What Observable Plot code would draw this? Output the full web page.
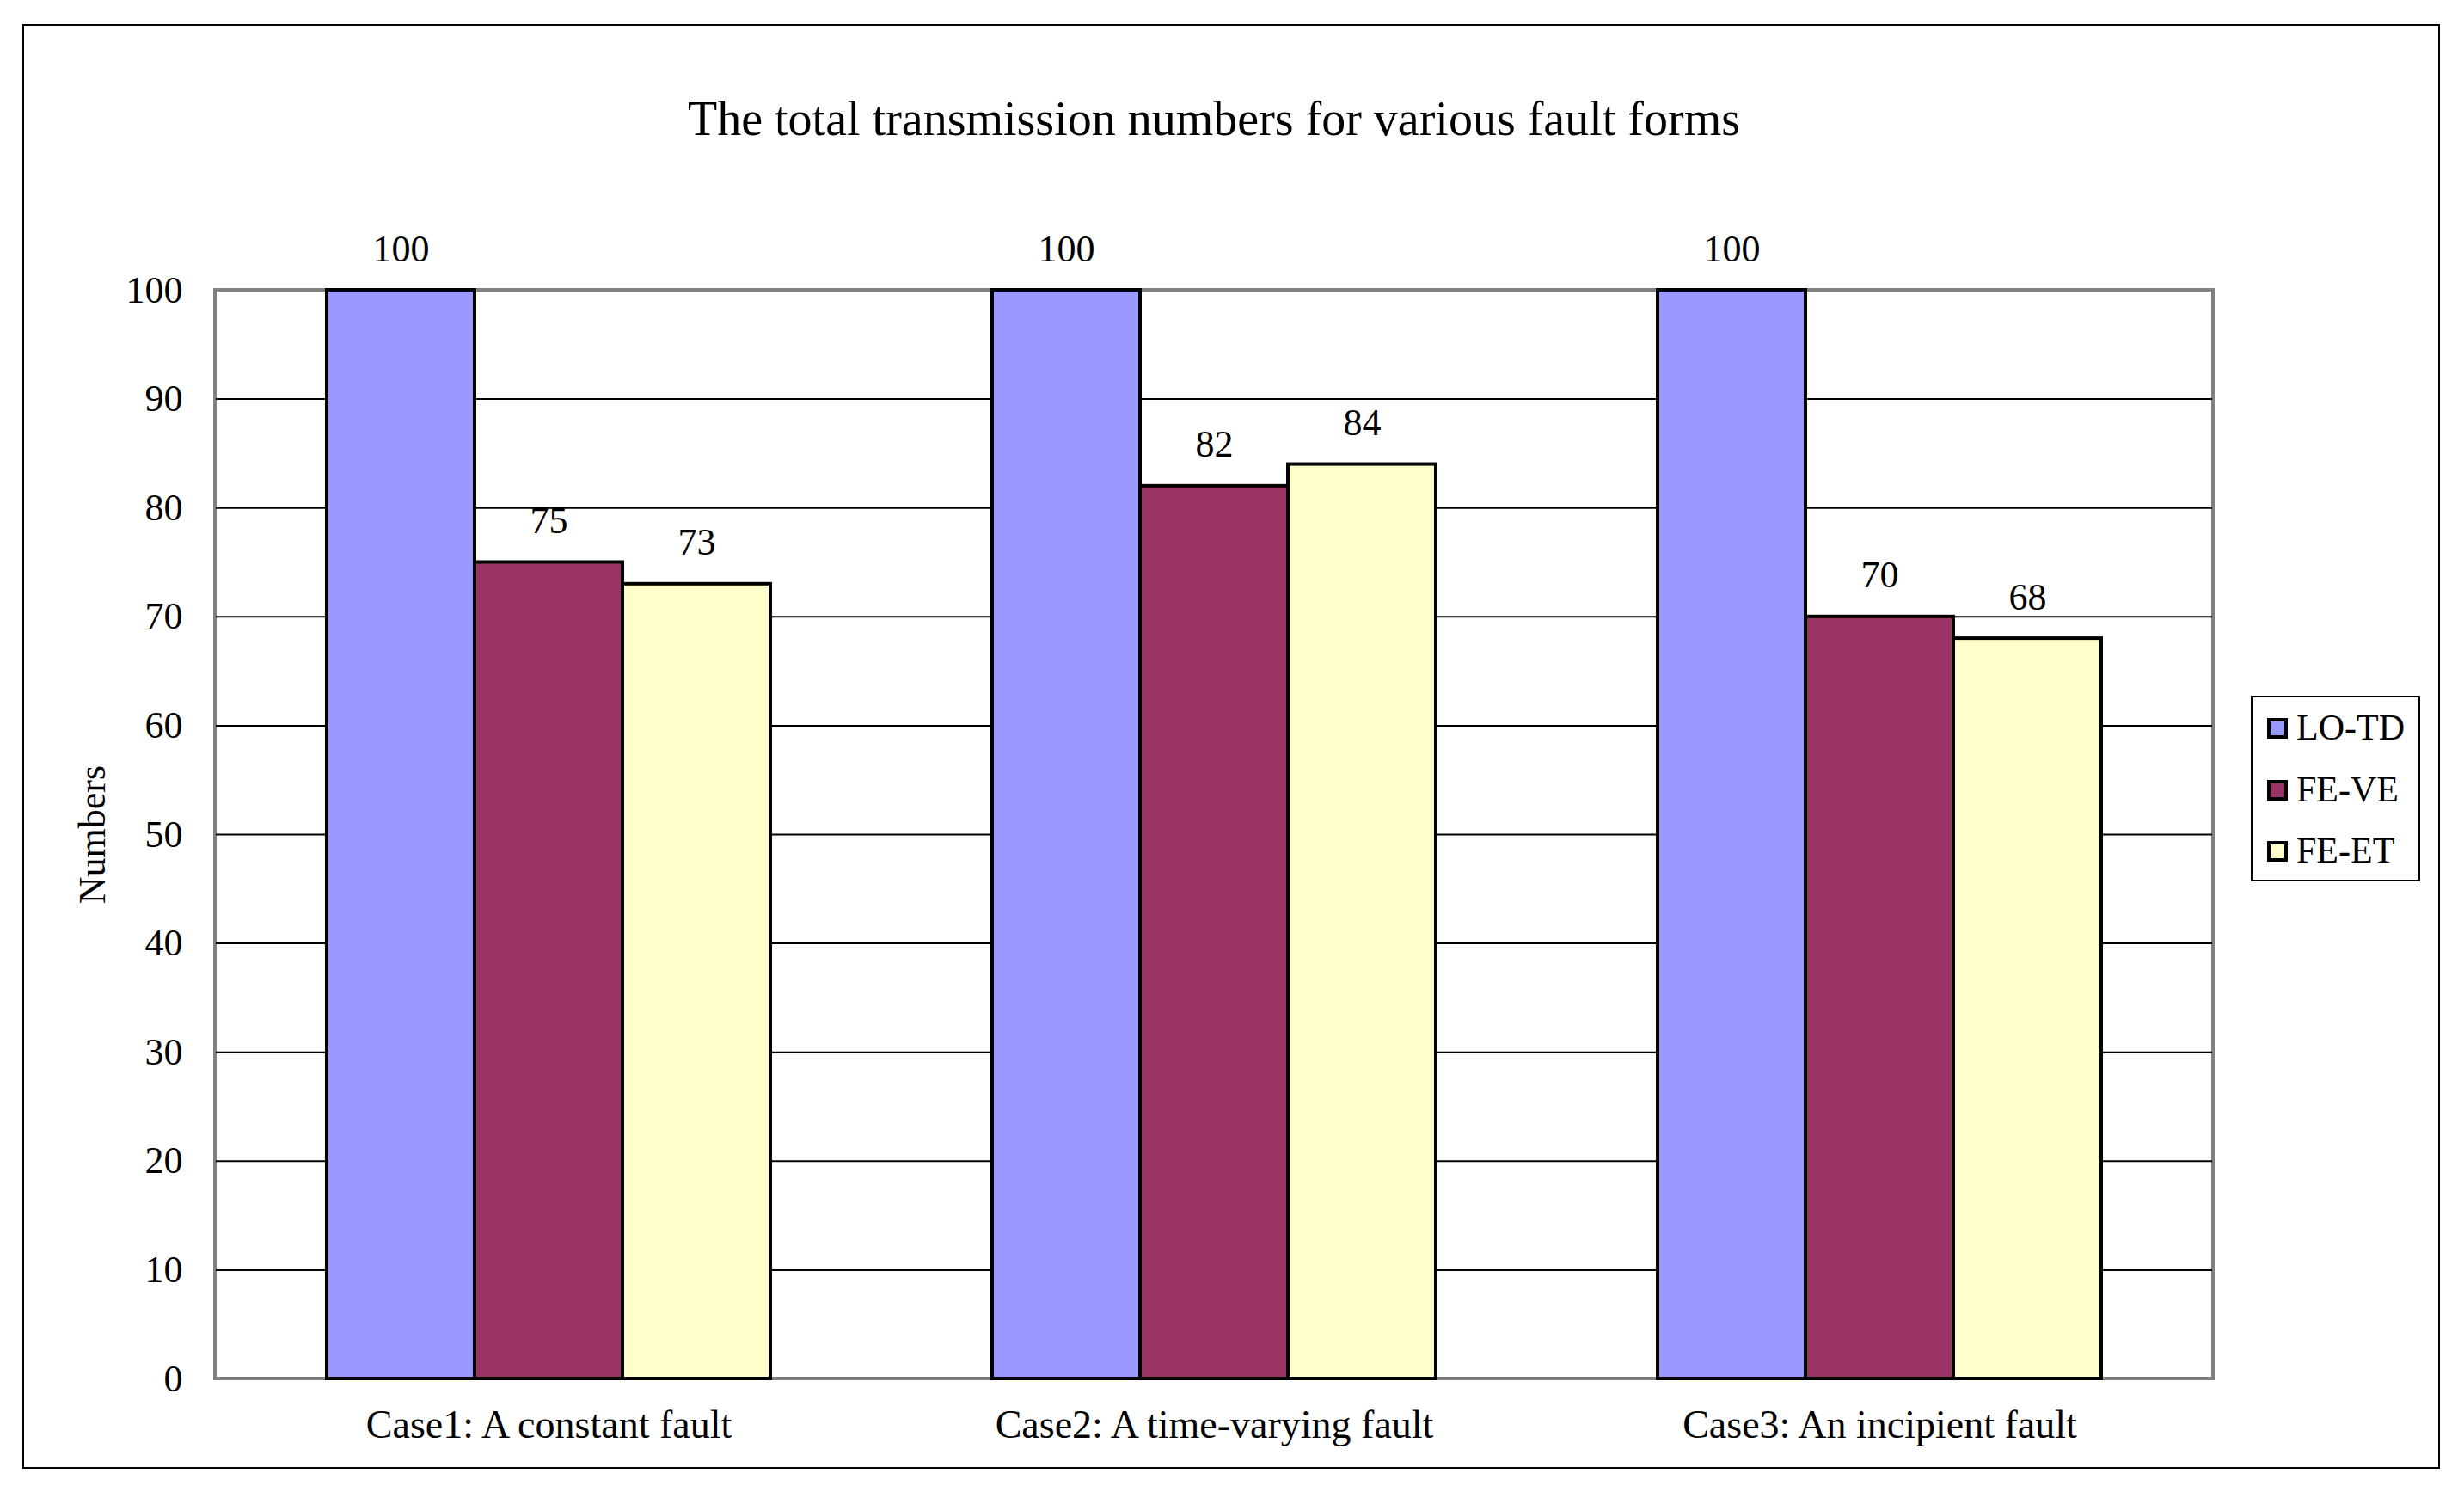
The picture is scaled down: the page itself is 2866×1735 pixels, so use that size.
<!DOCTYPE html>
<html>
<head>
<meta charset="utf-8">
<script src="https://cdn.jsdelivr.net/npm/d3@7"></script>
<script src="https://cdn.jsdelivr.net/npm/@observablehq/plot@0.6"></script>
<style>
  html, body { margin: 0; padding: 0; background: white; }
  #wrap { position: relative; width: 2866px; height: 1735px; font-family: "Liberation Serif", "Times New Roman", serif; }
  #outer { position: absolute; left: 26px; top: 28px; width: 2812px; height: 1680px; border: 2px solid black; box-sizing: border-box; }
  #frame { position: absolute; left: 248px; top: 335px; width: 2328px; height: 1270px; border: 4px solid #808080; box-sizing: border-box; }
  #title { position: absolute; left: 412px; width: 2000px; top: 110px; text-align: center; font-size: 56px; line-height: 56px; }
  #chart { position: absolute; left: 0; top: 0; }
  #legend { position: absolute; left: 2618px; top: 809px; width: 197px; height: 216px; border: 2px solid black; box-sizing: border-box; background: white; }
  .item { position: absolute; left: 0; height: 71.5px; width: 100%; }
  .sw { position: absolute; left: 17px; top: 24px; width: 16px; height: 16px; border: 4px solid black; }
  .lab { position: absolute; left: 51px; top: 0; font-size: 42px; line-height: 71.5px; white-space: nowrap; }
</style>
</head>
<body>
<div id="wrap">
  <div id="outer"></div>
  <div id="frame"></div>
  <div id="title"></div>
  <div id="chart"></div>
  <div id="legend"></div>
</div>
<script>
const titleText = "The total transmission numbers for various fault forms";
const cases = ["Case1: A constant fault", "Case2: A time-varying fault", "Case3: An incipient fault"];
const series = ["LO-TD", "FE-VE", "FE-ET"];
const loTD = [100, 100, 100];
const feVE = [75, 82, 70];
const feET = [73, 84, 68];
const colors = ["#9999FF", "#993366", "#FFFFCC"];
const yTicks = [0, 10, 20, 30, 40, 50, 60, 70, 80, 90, 100];
const gridTicks = [10, 20, 30, 40, 50, 60, 70, 80, 90];
const yLabel = "Numbers";

const valuesBySeries = [loTD, feVE, feET];
const data = [];
cases.forEach((c, i) => {
  series.forEach((s, j) => {
    data.push({case: c, series: s, value: valuesBySeries[j][i]});
  });
});

document.getElementById("title").textContent = titleText;

const chart = Plot.plot({
  width: 2866,
  height: 1735,
  marginLeft: 250,
  marginRight: 292,
  marginTop: 337,
  marginBottom: 132,
  style: {background: "transparent", fontFamily: "Liberation Serif, Times New Roman, serif", fontSize: "44px", color: "black"},
  fx: {domain: cases, padding: 0, axis: null, label: null},
  x: {domain: series, paddingInner: 0, paddingOuter: 0.75, axis: null},
  y: {domain: [0, 100], axis: null},
  color: {domain: series, range: colors},
  marks: [
    Plot.gridY(gridTicks, {stroke: "black", strokeOpacity: 1, strokeWidth: 2}),
    Plot.axisY(yTicks, {anchor: "left", tickSize: 0, tickPadding: 39, fontSize: 44, tickFormat: d => String(d),
      label: yLabel, labelAnchor: "center", labelArrow: "none", labelOffset: 161}),
    Plot.axisFx({anchor: "bottom", tickSize: 0, tickPadding: 36, fontSize: 46, label: null}),
    Plot.barY(data, {fx: "case", x: "series", y: "value", fill: "series", stroke: "black", strokeWidth: 4}),
    Plot.text(data, {fx: "case", x: "series", y: "value", text: d => String(d.value), dy: -48, fontSize: 44, fill: "black"})
  ]
});
document.getElementById("chart").appendChild(chart);

const legend = document.getElementById("legend");
series.forEach((s, j) => {
  const item = document.createElement("div");
  item.className = "item";
  item.style.top = (j * 71.5) + "px";
  const sw = document.createElement("div");
  sw.className = "sw";
  sw.style.background = colors[j];
  const lab = document.createElement("div");
  lab.className = "lab";
  lab.textContent = s;
  item.appendChild(sw);
  item.appendChild(lab);
  legend.appendChild(item);
});
</script>
</body>
</html>
